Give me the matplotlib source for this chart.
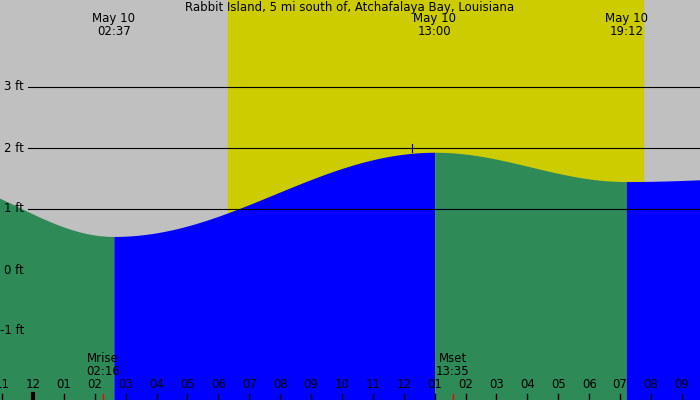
import numpy as np
import matplotlib
matplotlib.use("Agg")
import matplotlib.pyplot as plt

# tide extremes (hours since midnight May 10, feet)
ext_hours = [-3.5, 2.617, 13.0, 19.2, 25.0]
ext_feet = [1.5, 0.55, 1.93, 1.45, 1.53]
sunrise, sunset = 6.3, 19.75
moonrise, moonset = 2 + 16 / 60, 13 + 35 / 60
top_labels = [("May 10\n02:37", 2.617), ("May 10\n13:00", 13.0), ("May 10\n19:12", 19.2)]
hour_labels = ["11", "12", "01", "02", "03", "04", "05", "06", "07", "08", "09", "10",
               "11", "12", "01", "02", "03", "04", "05", "06", "07", "08", "09"]
title = "Rabbit Island, 5 mi south of, Atchafalaya Bay, Louisiana"

x0, x1 = -33 / 30.9, 667 / 30.9
y0, y1 = -130 / 61, 270 / 61
fs = 8.5

fig = plt.figure(figsize=(7, 4), dpi=100)
ax = fig.add_axes([0, 0, 1, 1])
ax.set_xlim(x0, x1)
ax.set_ylim(y0, y1)
ax.axis("off")
ax.add_patch(plt.Rectangle((x0, y0), x1 - x0, y1 - y0, color="#c0c0c0", zorder=0))
ax.axvspan(sunrise, sunset, color="#cccc00", zorder=1)

for i in range(len(ext_hours) - 1):
    ta, tb = ext_hours[i], ext_hours[i + 1]
    ha, hb = ext_feet[i], ext_feet[i + 1]
    t = np.linspace(ta, tb, 200)
    h = hb + (ha - hb) * (1 + np.cos(np.pi * (t - ta) / (tb - ta))) / 2
    col = "#0000ff" if hb > ha else "#2e8b57"
    ax.fill_between(t, y0, h, color=col, lw=0, zorder=2)

for lvl in [1, 2, 3]:
    ax.plot([28 / 30.9 + x0, x1], [lvl, lvl], color="black", lw=0.8, zorder=3)
for lvl in [-1, 0, 1, 2, 3]:
    ax.text(24 / 30.9 + x0, lvl, f"{lvl} ft", ha="right", va="center", fontsize=fs, zorder=4)
ax.plot([12.27, 12.27], [1.93, 2.07], color="black", lw=0.8, zorder=3)

ax.text((350 - 33) / 30.9, y1 - 0.02, title, ha="center", va="top", fontsize=fs)
for lab, hr in top_labels:
    ax.text(hr, y1 - 0.2, lab, ha="center", va="top", fontsize=fs, linespacing=0.95)

tick_len = 6 / 61
for i, lab in enumerate(hour_labels):
    hr = i - 1
    ax.plot([hr, hr], [y0, y0 + tick_len], color="black", lw=3 if hr == 0 else 1, zorder=4)
    ax.text(hr, y0 + 15 / 61, lab, ha="center", va="center", fontsize=fs, zorder=4)
for hr, lab in [(moonrise, "Mrise\n02:16"), (moonset, "Mset\n13:35")]:
    ax.plot([hr, hr], [y0, y0 + tick_len], color="red", lw=1, zorder=4)
    ax.text(hr, y0 + 22 / 61, lab, ha="center", va="bottom", fontsize=fs, linespacing=0.95, zorder=4)

fig.savefig("out.png", dpi=100)
